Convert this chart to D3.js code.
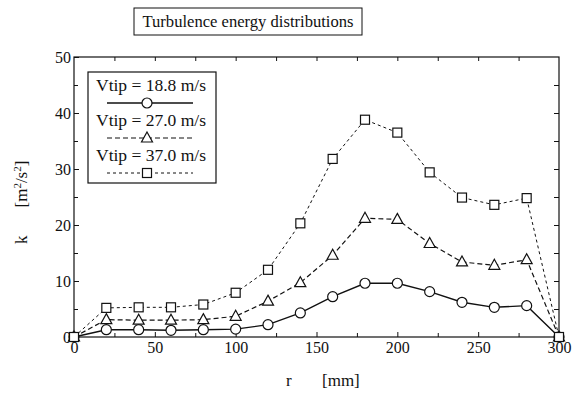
<!DOCTYPE html>
<html>
<head>
    <title></title>
    <style>
        body { margin: 0; background: #fff; }
        text { font-family: 'Liberation Serif', 'DejaVu Serif', serif; fill: #111; }
    </style>
</head>
<body>
<div id="container"></div>

<script src="https://d3js.org/d3.v7.min.js" type="text/javascript"></script>
<script type="text/javascript">
    // data
    const radius = [0, 20, 40, 60, 80, 100, 120, 140, 160, 180, 200, 220, 240, 260, 280, 300];
    const k188 = [0, 1.3, 1.3, 1.2, 1.3, 1.4, 2.2, 4.3, 7.2, 9.6, 9.6, 8.1, 6.2, 5.3, 5.6, 0];
    const k270 = [0, 3.1, 3.0, 3.0, 3.1, 3.7, 6.4, 9.7, 14.6, 21.2, 21.0, 16.7, 13.4, 12.8, 13.8, 0];
    const k370 = [0, 5.2, 5.3, 5.3, 5.8, 7.9, 12.0, 20.3, 31.8, 38.8, 36.5, 29.4, 24.9, 23.6, 24.8, 0];
    const seriesNames = ['Vtip = 18.8 m/s', 'Vtip = 27.0 m/s', 'Vtip = 37.0 m/s'];
    const xTicks = [0, 50, 100, 150, 200, 250, 300];
    const yTicks = [0, 10, 20, 30, 40, 50];

    const w = 575, h = 393;
    const svg = d3.select('#container').append('svg')
        .attr('width', w).attr('height', h);

    const x = d3.scaleLinear().domain([0, 300]).range([74, 559]);
    const y = d3.scaleLinear().domain([0, 50]).range([337, 57]);

    const series = [
        {name: seriesNames[0], vals: k188, dash: null, sym: 'circle', sw: 1.4},
        {name: seriesNames[1], vals: k270, dash: '5,3', sym: 'triangle', sw: 1.2},
        {name: seriesNames[2], vals: k370, dash: '3,3', sym: 'square', sw: 1}
    ];

    // title
    svg.append('rect').attr('x', 134).attr('y', 8).attr('width', 228).attr('height', 27)
        .style('fill', 'none').style('stroke', '#111').style('stroke-width', 1);
    svg.append('text').attr('x', 248).attr('y', 27).attr('text-anchor', 'middle')
        .attr('textLength', 211).attr('lengthAdjust', 'spacingAndGlyphs')
        .style('font-size', '17px').text('Turbulence energy distributions');

    // frame
    svg.append('rect').attr('x', x(0)).attr('y', y(50))
        .attr('width', x(300) - x(0)).attr('height', y(0) - y(50))
        .style('fill', 'none').style('stroke', '#111').style('stroke-width', 1.2);

    const tickStyle = g => {
        g.select('.domain').remove();
        g.selectAll('line').style('stroke', '#111');
        g.selectAll('text').style('font-size', '16px').style('fill', '#111')
            .style('font-family', "'Liberation Serif', serif");
    };

    // major + minor ticks, all pointing inward
    svg.append('g').attr('transform', `translate(0,${y(0)})`)
        .call(d3.axisBottom(x).tickValues(xTicks).tickSize(-5).tickPadding(5))
        .call(tickStyle);
    svg.append('g').attr('transform', `translate(0,${y(0)})`)
        .call(d3.axisBottom(x).tickValues(d3.range(25, 300, 50)).tickSize(-4).tickFormat(''))
        .call(tickStyle);
    svg.append('g').attr('transform', `translate(0,${y(50)})`)
        .call(d3.axisTop(x).tickValues(d3.range(25, 300, 25)).tickSize(-4).tickFormat(''))
        .call(tickStyle);

    svg.append('g').attr('transform', `translate(${x(0)},0)`)
        .call(d3.axisLeft(y).tickValues(yTicks).tickSize(-5).tickPadding(3))
        .call(tickStyle);
    svg.append('g').attr('transform', `translate(${x(0)},0)`)
        .call(d3.axisLeft(y).tickValues(d3.range(5, 50, 10)).tickSize(-4).tickFormat(''))
        .call(tickStyle);
    svg.append('g').attr('transform', `translate(${x(300)},0)`)
        .call(d3.axisRight(y).tickValues(d3.range(5, 50, 5)).tickSize(-5).tickFormat(''))
        .call(tickStyle);

    // axis titles
    const xl = svg.append('text').attr('x', 286).attr('y', 386).style('font-size', '17px');
    xl.append('tspan').text('r');
    xl.append('tspan').attr('x', 322).text('[mm]');

    const yl = svg.append('text').attr('transform', 'translate(27,244) rotate(-90)')
        .style('font-size', '17px');
    yl.append('tspan').text('k');
    yl.append('tspan').attr('dx', 28).text('[m');
    yl.append('tspan').attr('dy', -6).style('font-size', '11px').text('2');
    yl.append('tspan').attr('dy', 6).text('/s');
    yl.append('tspan').attr('dy', -6).style('font-size', '11px').text('2');
    yl.append('tspan').attr('dy', 6).text(']');

    // lines and markers
    const line = d3.line().x((d, i) => x(radius[i])).y(d => y(d));

    const drawMarker = (g, sym, cx, cy) => {
        if (sym === 'circle') {
            g.append('circle').attr('cx', cx).attr('cy', cy).attr('r', 5);
        } else if (sym === 'triangle') {
            g.append('path').attr('d', `M${cx},${cy - 6}L${cx + 5.5},${cy + 4}L${cx - 5.5},${cy + 4}Z`);
        } else {
            g.append('rect').attr('x', cx - 4.5).attr('y', cy - 4.5).attr('width', 9).attr('height', 9);
        }
    };

    series.forEach(s => {
        svg.append('path').datum(s.vals).attr('d', line)
            .style('fill', 'none').style('stroke', '#111').style('stroke-width', s.sw)
            .style('stroke-dasharray', s.dash);
        const mg = svg.append('g').style('fill', '#fff').style('stroke', '#111').style('stroke-width', 1.2);
        s.vals.forEach((v, i) => drawMarker(mg, s.sym, x(radius[i]), y(v)));
    });

    // legend
    svg.append('rect').attr('x', 88).attr('y', 72).attr('width', 128).attr('height', 111)
        .style('fill', '#fff').style('stroke', '#111').style('stroke-width', 1.2);
    series.forEach((s, i) => {
        const top = 72 + i * 35;
        svg.append('text').attr('x', 151).attr('y', top + 19).attr('text-anchor', 'middle')
            .attr('textLength', 110).attr('lengthAdjust', 'spacingAndGlyphs')
            .style('font-size', '16px').text(s.name);
        svg.append('line').attr('x1', 107).attr('x2', 193).attr('y1', top + 31).attr('y2', top + 31)
            .style('stroke', '#111').style('stroke-width', s.sw).style('stroke-dasharray', s.dash);
        const mg = svg.append('g').style('fill', '#fff').style('stroke', '#111').style('stroke-width', 1.2);
        drawMarker(mg, s.sym, 147, top + 31);
    });
</script>
</body>
</html>
